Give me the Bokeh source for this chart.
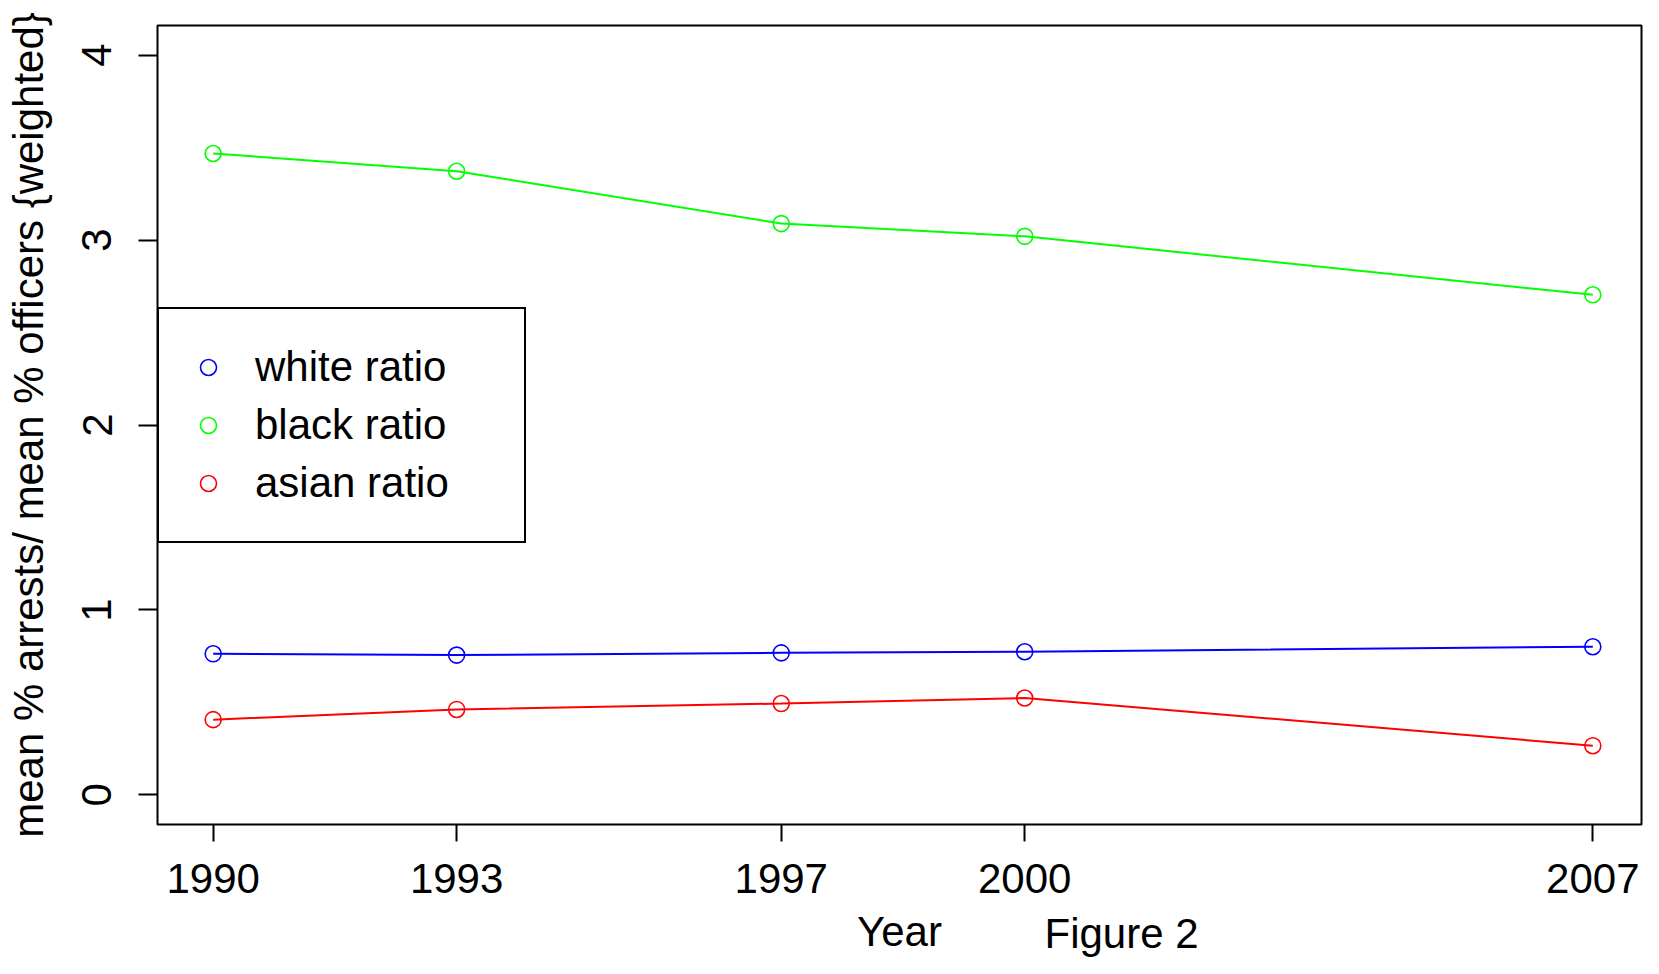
from bokeh.plotting import figure
from bokeh.models import Range1d, FixedTicker, Legend, LegendItem, Title
from bokeh.embed import file_html
from bokeh.resources import INLINE

# ---- data ----
years = [1990, 1993, 1997, 2000, 2007]
white_ratio = [0.763, 0.756, 0.768, 0.774, 0.801]
black_ratio = [3.468, 3.372, 3.089, 3.020, 2.704]
asian_ratio = [0.407, 0.462, 0.494, 0.524, 0.266]
y_ticks = [0, 1, 2, 3, 4]
series_names = ["white ratio", "black ratio", "asian ratio"]
series_colors = ["#0000FF", "#00FF00", "#FF0000"]
x_title = "Year"
y_title = "mean % arrests/ mean % officers {weighted}"
caption = "Figure 2"

FONT = "Liberation Sans"
FS = "42px"

p = figure(width=1643, height=958, output_backend="svg", toolbar_location=None,
           x_range=Range1d(1989.314, 2007.60), y_range=Range1d(-0.16, 4.16),
           min_border_left=157, min_border_right=2, min_border_top=25, min_border_bottom=134)
p.background_fill_color = "white"
p.border_fill_color = "white"
p.outline_line_color = "black"
p.outline_line_width = 2
p.xgrid.visible = False
p.ygrid.visible = False

for ax in (p.xaxis[0], p.yaxis[0]):
    ax.axis_line_color = None
    ax.major_tick_in = 0
    ax.minor_tick_line_color = None
    ax.major_tick_line_color = "black"
    ax.major_tick_line_width = 2
    ax.major_label_text_font = FONT
    ax.major_label_text_font_size = FS
    ax.major_label_text_color = "black"
    ax.axis_label_text_font = FONT
    ax.axis_label_text_font_size = FS
    ax.axis_label_text_font_style = "normal"
    ax.axis_label_text_color = "black"

p.xaxis.ticker = FixedTicker(ticks=years)
p.yaxis.ticker = FixedTicker(ticks=y_ticks)
p.xaxis.major_tick_out = 17
p.yaxis.major_tick_out = 19
p.xaxis.major_label_standoff = 22
p.yaxis.major_label_standoff = 27
p.yaxis.major_label_orientation = "vertical"
p.xaxis.axis_label = x_title
p.yaxis.axis_label = y_title
p.xaxis.axis_label_standoff = 12
p.yaxis.axis_label_standoff = 28

items = []
for name, vals, col in zip(series_names, [white_ratio, black_ratio, asian_ratio], series_colors):
    p.line(years, vals, line_color=col, line_width=2)
    r = p.scatter(years, vals, marker="circle", size=16, fill_color=None,
                  line_color=col, line_width=1.6)
    items.append(LegendItem(label=name, renderers=[r]))

legend = Legend(items=items, location=(0, 281), margin=0, padding=29,
                glyph_width=40, glyph_height=58, label_height=58, label_width=240,
                label_standoff=27, spacing=0,
                label_text_font=FONT, label_text_font_size=FS, label_text_color="black",
                border_line_color="black", border_line_width=2, border_line_alpha=1.0,
                background_fill_color="white", background_fill_alpha=1.0)
p.add_layout(legend, "center")

cap = Title(text=caption, align="left", offset=887, vertical_align="top", standoff=-96,
            text_font=FONT, text_font_size=FS, text_font_style="normal", text_color="black")
p.add_layout(cap, "below")

open("out.html", "w").write(file_html(p, INLINE))
